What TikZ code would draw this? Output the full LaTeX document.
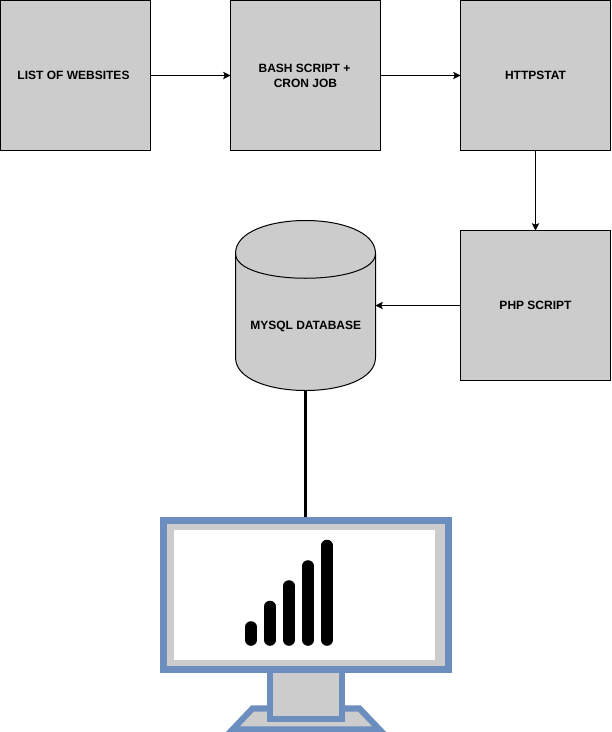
\documentclass[tikz,border=0pt]{standalone}
\usepackage{fontspec}
\setmainfont{Liberation Sans}
\usetikzlibrary{arrows.meta}
\definecolor{boxgray}{HTML}{CCCCCC}
\definecolor{monblue}{HTML}{6C8EBF}
\tikzset{
  x=0.75pt, y=-0.75pt,
  boxnode/.style={draw=black, fill=boxgray, line width=0.75pt, minimum width=112.5pt, minimum height=112.5pt, inner sep=0pt, outer sep=0pt, align=center, font=\bfseries\fontsize{9}{11.25}\selectfont},
  flow/.style={draw=black, line width=0.75pt, -{Stealth[length=5.5pt,width=5.5pt,inset=1.2pt]}},
  thick link/.style={draw=black, line width=2.25pt},
  monpart/.style={draw=monblue, fill=boxgray, line width=4.6pt, line join=miter},
  signal/.style={draw=black, line width=8.7pt, line cap=round},
  anchorbox/.style={inner sep=0pt, outer sep=0pt, minimum width=105pt, minimum height=127.5pt},
  dbtext/.style={inner sep=0pt, font=\bfseries\fontsize{9}{11.25}\selectfont}
}
\begin{document}
\begin{tikzpicture}
\useasboundingbox (0,0) rectangle (611,732);
% process boxes
\node[boxnode] (list) at (75.5,75.5) {LIST OF WEBSITES\hspace*{3pt}};
\node[boxnode] (bash) at (305.5,75.5) {BASH SCRIPT +\hspace*{1.5pt}\\CRON JOB};
\node[boxnode] (stat) at (535.5,75.5) {HTTPSTAT};
\node[boxnode] (php) at (535.5,305.5) {PHP SCRIPT};
% database cylinder
\draw[draw=black, fill=boxgray, line width=0.75pt]
  (235.5,253.5) .. controls (235.5,209.5) and (375.5,209.5) .. (375.5,253.5)
  -- (375.5,357.5) .. controls (375.5,401.5) and (235.5,401.5) .. (235.5,357.5) -- cycle;
\draw[draw=black, line width=0.75pt]
  (235.5,253.5) .. controls (235.5,286.5) and (375.5,286.5) .. (375.5,253.5);
\node[anchorbox] (db) at (305.5,305.5) {};
\node[dbtext] (dblabel) at (305.7,326) {MYSQL DATABASE};
% monitor
\draw[monpart] (252.5,708.5) -- (359.5,708.5) -- (379.5,729.5) -- (232.5,729.5) -- cycle;
\draw[monpart] (270,665) rectangle (342,719);
\node[monpart, rectangle, minimum width=213.75pt, minimum height=111.75pt, inner sep=0pt, outer sep=2.3pt] (mon) at (306,595) {};
\fill[white] (173.5,530) rectangle (435,659.5);
\draw[signal] (251,627) -- (251,640);
\draw[signal] (270,606.5) -- (270,640);
\draw[signal] (289,586) -- (289,640);
\draw[signal] (308,566) -- (308,640);
\draw[signal] (327,545.5) -- (327,640);
% connectors
\draw[flow] (list) -- (bash);
\draw[flow] (bash) -- (stat);
\draw[flow] (stat) -- (php);
\draw[flow] (php) -- (db);
\draw[thick link] (db.south) -- (db.south |- mon.north);
\end{tikzpicture}
\end{document}
